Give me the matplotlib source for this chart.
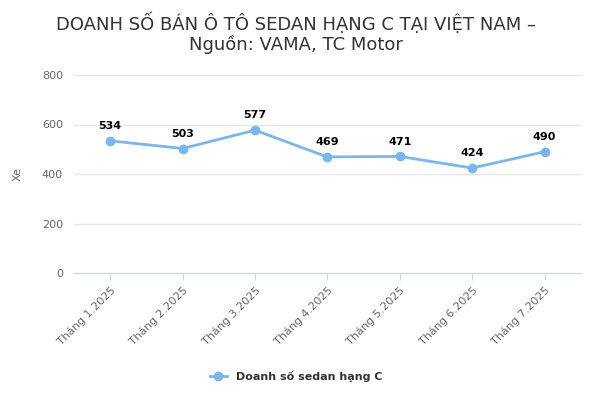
import matplotlib
matplotlib.use("Agg")
import matplotlib.pyplot as plt

categories = ["Tháng 1.2025","Tháng 2.2025","Tháng 3.2025","Tháng 4.2025","Tháng 5.2025","Tháng 6.2025","Tháng 7.2025"]
values = [534, 503, 577, 469, 471, 424, 490]
series_name = "Doanh số sedan hạng C"
yticks = [0, 200, 400, 600, 800]

plt.rcParams['font.family'] = ['DejaVu Sans']
fig = plt.figure(figsize=(5.92, 4), dpi=100)
ax = fig.add_axes([0.125, 0.3175, 0.856, 0.495])
x = list(range(len(categories)))
color = "#7cb5ec"
ax.plot(x, values, color=color, lw=2, marker='o', ms=6, label=series_name, zorder=3)
for xi, v in zip(x, values):
    ax.annotate(str(v), (xi, v), xytext=(0, 7), textcoords='offset points',
                ha='center', va='bottom', fontsize=8, fontweight='bold', color='black')
ax.set_xlim(-0.5, len(categories) - 0.5)
ax.set_ylim(0, 800)
ax.set_yticks(yticks)
ax.set_yticklabels([str(t) for t in yticks], fontsize=8, color='#666666')
ax.set_xticks(x)
ax.set_xticklabels(categories, rotation=45, ha='right', rotation_mode='anchor', fontsize=8, color='#666666')
ax.grid(axis='y', color='#e6e6e6', lw=1)
ax.set_axisbelow(True)
for s in ['top', 'right', 'left']:
    ax.spines[s].set_visible(False)
ax.spines['bottom'].set_color('#ccd6eb')
ax.tick_params(axis='y', length=0, pad=8)
ax.tick_params(axis='x', length=5, color='#ccd6eb')
ax.set_ylabel("Xe", fontsize=8, color='#666666', labelpad=14)
fig.text(0.5, 0.97, "DOANH SỐ BÁN Ô TÔ SEDAN HẠNG C TẠI VIỆT NAM –\nNguồn: VAMA, TC Motor",
         ha='center', va='top', fontsize=13, color='#333333', linespacing=1.1)
leg = fig.legend(loc='lower center', bbox_to_anchor=(0.5, 0.02), frameon=False,
                 prop={'size': 8, 'weight': 'bold'}, labelcolor='#333333', handlelength=1.5)
fig.savefig("out.png", dpi=100)
